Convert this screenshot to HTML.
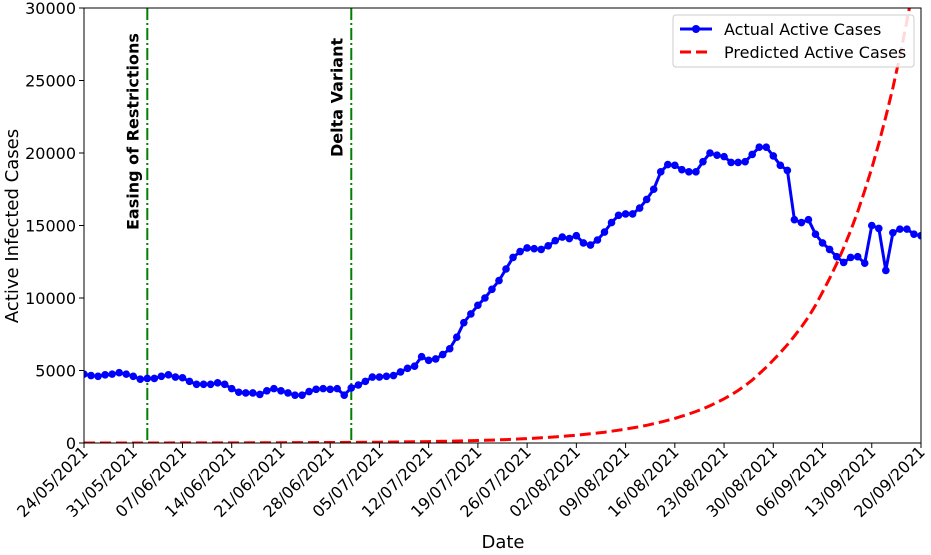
<!DOCTYPE html>
<html><head><meta charset="utf-8"><style>
body{margin:0;background:#fff;}
svg{display:block;font-family:"DejaVu Sans","Liberation Sans",sans-serif;}
</style></head><body>
<svg id="chart" width="931" height="555">
<rect x="0" y="0" width="931" height="555" fill="#fff"/>
<g id="grid"></g>
<g id="marks"></g>
<g id="axes"></g>
</svg>
<script>
const actualValues = [4750,4650,4600,4700,4750,4850,4750,4600,4400,4450,4450,4600,4700,4550,4500,4250,4050,4050,4050,4150,4050,3750,3500,3450,3450,3350,3600,3750,3600,3450,3300,3300,3550,3700,3750,3700,3750,3300,3800,4000,4250,4550,4550,4600,4650,4900,5150,5300,5950,5700,5800,6100,6500,7300,8300,8900,9500,10000,10600,11200,12000,12800,13200,13450,13400,13350,13600,13950,14200,14100,14300,13800,13650,14000,14550,15200,15700,15800,15800,16200,16800,17500,18700,19200,19150,18850,18700,18700,19400,20000,19850,19750,19350,19350,19400,19900,20400,20400,19800,19150,18800,15400,15200,15400,14400,13800,13350,12850,12450,12800,12850,12400,15000,14800,11900,14500,14750,14750,14400,14300];
const predDays = [0,7,14,21,28,35,42,49,56,57,58,59,60,61,62,63,64,65,66,67,68,69,70,71,72,73,74,75,76,77,78,79,80,81,82,83,84,85,86,87,88,89,90,91,92,93,94,95,96,97,98,99,100,101,102,103,104,105,106,107,108,109,110,111,112,113,114,115,116,117,118,119];
const predValues = [2,3,5,10,18,32,57,99,171,186,202,219,237,258,280,303,329,358,388,421,457,496,539,585,635,689,748,812,881,957,1039,1127,1224,1328,1442,1566,1700,1845,2003,2174,2360,2570,2800,3050,3320,3620,3960,4340,4770,5230,5720,6230,6780,7370,8000,8700,9500,10400,11350,12350,13450,14650,15950,17400,18950,20650,22500,24500,26700,29100,31700,34500];
const yTicks = [0,5000,10000,15000,20000,25000,30000];
const xTickLabels = ["24/05/2021","31/05/2021","07/06/2021","14/06/2021","21/06/2021","28/06/2021","05/07/2021","12/07/2021","19/07/2021","26/07/2021","02/08/2021","09/08/2021","16/08/2021","23/08/2021","30/08/2021","06/09/2021","13/09/2021","20/09/2021"];
const eventDays = [9,38];
const eventLabels = ["Easing of Restrictions","Delta Variant"];

const L=84,R=921,T=8,B=443, dayMax=119, yMax=30000;
const xs=d=>L+(R-L)*d/dayMax;
const ys=v=>B-(B-T)*v/yMax;
const NS="http://www.w3.org/2000/svg";
function mk(tag,attrs,parent){const e=document.createElementNS(NS,tag);for(const k in attrs)e.setAttribute(k,attrs[k]);parent.appendChild(e);return e;}
const svg=document.getElementById('chart');
const marks=document.getElementById('marks');
const axes=document.getElementById('axes');

const defs=mk('defs',{},svg);
const cp=mk('clipPath',{id:'plotclip'},defs);
mk('rect',{x:L,y:T,width:R-L,height:B-T},cp);
marks.setAttribute('clip-path','url(#plotclip)');

eventDays.forEach((d,i)=>{
  const ln=mk('line',{x1:xs(d),x2:xs(d),y1:T,y2:B,stroke:'#008000','stroke-width':2,'stroke-dasharray':'12,3,2,3'},marks);
  
  
  const tx=xs(d)-9;
  const ty= i===0?230:157;
  const t=mk('text',{x:tx,y:ty,transform:`rotate(-90 ${tx} ${ty})`,'font-size':16,'font-weight':'bold',fill:'#000'},axes);
  t.textContent=eventLabels[i];
  
  
});

const pp=predDays.map((d,i)=>`${xs(d).toFixed(1)},${ys(predValues[i]).toFixed(1)}`).join(' ');
const pl=mk('polyline',{points:pp,fill:'none',stroke:'#ff0000','stroke-width':3,'stroke-dasharray':'11,5'},marks);



const ap=actualValues.map((v,i)=>`${xs(i).toFixed(1)},${ys(v).toFixed(1)}`).join(' ');
const al=mk('polyline',{points:ap,fill:'none',stroke:'#0000ff','stroke-width':3,'stroke-linejoin':'round'},marks);


actualValues.forEach((v,i)=>{
  const c=mk('circle',{cx:xs(i),cy:ys(v),r:3.8,fill:'#0000ff'},marks);
  
  
});

const fr=mk('rect',{x:L,y:T,width:R-L,height:B-T,fill:'none',stroke:'#000','stroke-width':1},axes);



yTicks.forEach(v=>{
  mk('line',{x1:L-5,x2:L,y1:ys(v),y2:ys(v),stroke:'#000'},axes);
  const t=mk('text',{x:L-8,y:ys(v)+6,'text-anchor':'end','font-size':16,fill:'#000'},axes);
  t.textContent=v;
  
  
});
xTickLabels.forEach((lab,i)=>{
  const x=xs(i*7);
  mk('line',{x1:x,x2:x,y1:B,y2:B+5,stroke:'#000'},axes);
  const tx=x+5, ty=B+10;
  const t=mk('text',{x:tx,y:ty,transform:`rotate(-45 ${tx} ${ty})`,'text-anchor':'end','font-size':16,fill:'#000'},axes);
  t.textContent=lab;
  
  
});
const xt=mk('text',{x:503,y:548,'text-anchor':'middle','font-size':18,fill:'#000'},axes);
xt.textContent='Date';


const yt=mk('text',{x:18,y:226,transform:'rotate(-90 18 226)','text-anchor':'middle','font-size':18,fill:'#000'},axes);
yt.textContent='Active Infected Cases';



const lg=mk('g',{},axes);


mk('rect',{x:673,y:15,width:241,height:52,rx:3,fill:'#fff','fill-opacity':0.85,stroke:'#ccc'},lg);
mk('line',{x1:680,x2:712,y1:29,y2:29,stroke:'#0000ff','stroke-width':3},lg);
mk('circle',{cx:696,cy:29,r:4,fill:'#0000ff'},lg);
const l1=mk('text',{x:724,y:35,'font-size':16,fill:'#000'},lg);
l1.textContent='Actual Active Cases';


mk('line',{x1:680,x2:712,y1:52,y2:52,stroke:'#ff0000','stroke-width':3,'stroke-dasharray':'11,5'},lg);
const l2=mk('text',{x:724,y:58,'font-size':16,fill:'#000'},lg);
l2.textContent='Predicted Active Cases';


</script>
</body></html>
